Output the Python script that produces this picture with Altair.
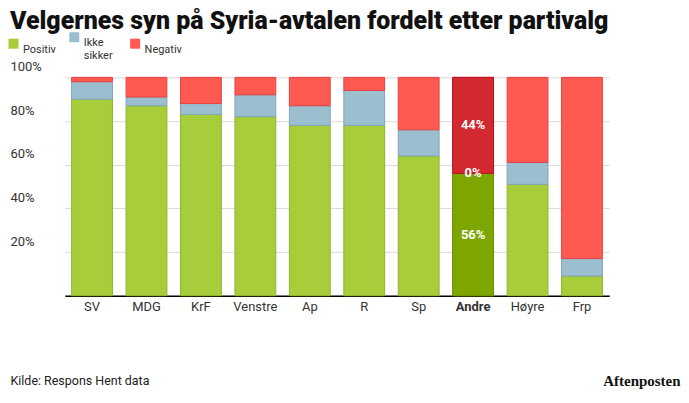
import altair as alt
import pandas as pd

# Data (percent of voters per party)
partier = ["SV", "MDG", "KrF", "Venstre", "Ap", "R", "Sp", "Andre", "Høyre", "Frp"]
positiv = [90, 87, 83, 82, 78, 78, 64, 56, 51, 9]
ikke_sikker = [8, 4, 5, 10, 9, 16, 12, 0, 10, 8]
negativ = [2, 9, 12, 8, 13, 6, 24, 44, 39, 83]
kategorier = ["Positiv", "Ikke sikker", "Negativ"]
uthevet = "Andre"
y_ticks = [0, 20, 40, 60, 80, 100]

FARGER = ["#a7cd3a", "#9bbfcf", "#ff5a52"]
KANTER = ["#8fb52a", "#7fa5b8", "#e8423f"]
MORKE_FARGER = ["#7ea600", "#9bbfcf", "#d2282f"]
MORKE_KANTER = ["#6b8f00", "#7fa5b8", "#b5141e"]

FONT = "Roboto"
TITLE_FONT = "Roboto"

rows = []
for i, parti in enumerate(partier):
    for k, (svar, verdier) in enumerate(zip(kategorier, [positiv, ikke_sikker, negativ])):
        rows.append({"parti": parti, "svar": svar, "rekkefolge": k, "andel": verdier[i]})
df = pd.DataFrame(rows)

x_scale = alt.Scale(paddingInner=0.25, paddingOuter=0.125, range=[55, 601])

x_enc = alt.X(
    "parti:N",
    sort=partier,
    scale=x_scale,
    axis=alt.Axis(
        title="Kilde: Respons Hent data",
        titleX=0,
        titleY=85,
        titleAlign="left",
        titleBaseline="middle",
        titleFontWeight="normal",
        titleFontSize=12.5,
        titleFont=FONT,
        titleColor="#222",
        labelAngle=0,
        labelFontSize=13,
        labelFont=FONT,
        labelColor="#333",
        labelPadding=5,
        labelFontWeight=alt.condition(f"datum.value == '{uthevet}'", alt.value("bold"), alt.value("normal")),
        ticks=False,
        domainColor="#000",
        domainWidth=1.5,
        grid=False,
    ),
)

y_enc = alt.Y(
    "andel:Q",
    stack="zero",
    scale=alt.Scale(domain=[0, 100], nice=False),
    axis=alt.Axis(
        values=y_ticks,
        labelExpr="datum.value == 0 ? '' : datum.value + '%'",
        labelAlign="left",
        labelBaseline="bottom",
        labelPadding=0,
        labelOffset=-4,
        labelFontSize=13,
        labelFont=FONT,
        labelColor="#333",
        tickSize=0,
        domain=False,
        gridColor="#d9d9d9",
        gridWidth=1,
        title="Aftenposten",
        titleAngle=0,
        titleX=672,
        titleY=304,
        titleAlign="right",
        titleBaseline="middle",
        titleFont="Liberation Serif",
        titleFontSize=15,
        titleFontWeight="bold",
        titleColor="#111",
    ),
)

bars = (
    alt.Chart(df)
    .mark_bar(strokeWidth=1)
    .encode(
        x=x_enc,
        y=y_enc,
        order=alt.Order("rekkefolge:Q"),
        color=alt.Color(
            "svar:N",
            sort=kategorier,
            scale=alt.Scale(domain=kategorier, range=FARGER),
            legend=alt.Legend(
                title=None,
                orient="none",
                legendX=-2,
                legendY=-46,
                direction="horizontal",
                columns=3,
                gridAlign="all",
                columnPadding=8,
                symbolType="square",
                symbolSize=100,
                symbolStrokeWidth=0,
                labelFontSize=11,
                labelFont=FONT,
                labelColor="#333",
                labelBaseline="top",
                labelOffset=4,
                labelExpr="datum.label == 'Ikke sikker' ? ['Ikke', 'sikker'] : datum.label",
            ),
        ),
        stroke=alt.Stroke("svar:N", scale=alt.Scale(domain=kategorier, range=KANTER), legend=None),
    )
)

highlight = (
    alt.Chart(df)
    .transform_filter(alt.datum.parti == uthevet)
    .mark_bar(strokeWidth=1)
    .encode(
        x=alt.X("parti:N", sort=partier, scale=x_scale),
        y=alt.Y("andel:Q", stack="zero"),
        order=alt.Order("rekkefolge:Q"),
        color=alt.Color("svar:N", scale=alt.Scale(domain=kategorier, range=MORKE_FARGER), legend=None),
        stroke=alt.Stroke("svar:N", scale=alt.Scale(domain=kategorier, range=MORKE_KANTER), legend=None),
    )
)

labels = (
    alt.Chart(df)
    .transform_filter(alt.datum.parti == uthevet)
    .transform_stack(stack="andel", as_=["y0", "y1"], groupby=["parti"], sort=[alt.SortField("rekkefolge")])
    .transform_calculate(midt="(datum.y0 + datum.y1) / 2", tekst="datum.andel + '%'")
    .mark_text(color="white", fontWeight="bold", fontSize=13, font=FONT, baseline="middle")
    .encode(
        x=alt.X("parti:N", sort=partier, scale=x_scale),
        y=alt.Y("midt:Q"),
        text="tekst:N",
    )
)

chart = (
    alt.layer(bars, highlight, labels)
    .resolve_scale(color="independent", stroke="independent")
    .properties(
        width=673,
        height=219,
        padding={"left": 0, "top": 0, "right": 0, "bottom": 0},
        title=alt.TitleParams(
            text="Velgernes syn på Syria-avtalen fordelt etter partivalg",
            font=TITLE_FONT,
            fontSize=25,
            fontWeight=900,
            color="#111",
            anchor="start",
            frame="group",
            offset=-2,
        ),
    )
    .configure_view(stroke=None)
)

chart.save("out.html", embed_options={"renderer": "svg", "actions": False})
